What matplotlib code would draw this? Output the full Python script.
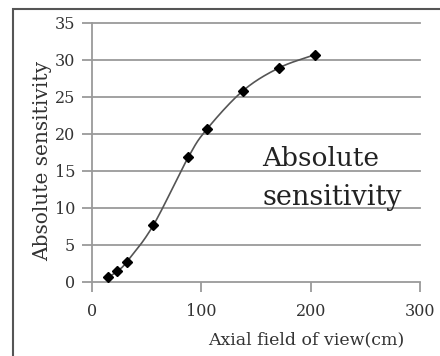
import numpy as np
import matplotlib
matplotlib.use("Agg")
import matplotlib.pyplot as plt
from matplotlib.patches import Rectangle

axial_fov_cm = [15, 23, 32, 56, 88, 105, 138, 171, 204]
abs_sensitivity = [0.6, 1.4, 2.7, 7.6, 16.8, 20.6, 25.8, 28.9, 30.7]
x_ticks = [0, 100, 200, 300]
y_ticks = [0, 5, 10, 15, 20, 25, 30, 35]

def smooth(xs, ys, n=30):
    # Catmull-Rom style smoothing between given points (like Excel smoothed line)
    xs = np.asarray(xs, float); ys = np.asarray(ys, float)
    P = np.column_stack([xs, ys])
    P = np.vstack([P[0] - (P[1] - P[0]), P, P[-1] + (P[-1] - P[-2])])
    out = []
    t = np.linspace(0, 1, n)[:, None]
    for i in range(1, len(P) - 2):
        p0, p1, p2, p3 = P[i-1], P[i], P[i+1], P[i+2]
        c1 = p1 + (p2 - p0) / 6
        c2 = p2 - (p3 - p1) / 6
        seg = ((1-t)**3)*p1 + 3*((1-t)**2)*t*c1 + 3*(1-t)*t**2*c2 + t**3*p2
        out.append(seg)
    S = np.vstack(out)
    return S[:, 0], S[:, 1]

plt.rcParams['font.family'] = ['DejaVu Serif']

fig = plt.figure(figsize=(4.4, 3.56), dpi=100)
ax = fig.add_axes([0.209, 0.2087, 0.7455, 0.7273])

for yv in y_ticks[1:]:
    ax.axhline(yv, color='#9a9a9a', lw=1.3, zorder=1, xmin=0, xmax=1, clip_on=False)

sx, sy = smooth(axial_fov_cm, abs_sensitivity)
ax.plot(sx, sy, color='#555555', lw=1.2, zorder=2)
ax.plot(axial_fov_cm, abs_sensitivity, linestyle='none', marker='D', ms=5.5,
        color='black', zorder=3)

ax.set_xlim(0, 300)
ax.set_ylim(0, 35)
ax.set_xticks(x_ticks)
ax.set_yticks(y_ticks)
for s in ['top', 'right']:
    ax.spines[s].set_visible(False)
for s in ['left', 'bottom']:
    ax.spines[s].set_color('#9a9a9a')
    ax.spines[s].set_linewidth(1.3)
ax.tick_params(axis='both', color='#9a9a9a', width=1.3, length=7, labelsize=11.5,
               labelcolor='#333333')
ax.tick_params(axis='y', pad=5)
ax.tick_params(axis='x', pad=8)

ax.set_ylabel('Absolute sensitivity', fontsize=14.5, color='#333333')
ax.yaxis.set_label_coords(-0.122, 0.466)
ax.set_xlabel('Axial field of view(cm)', fontsize=12.5, color='#333333')
ax.xaxis.set_label_coords(0.652, -0.19)

ax.text(0.52, 0.447, 'Absolute', transform=ax.transAxes, fontsize=19,
        color='#222222', ha='left', va='baseline')
ax.text(0.52, 0.296, 'sensitivity', transform=ax.transAxes, fontsize=19.5,
        color='#222222', ha='left', va='baseline')

fig.patches.append(Rectangle((13/440, -0.1), 2, (356-9)/356 + 0.1, transform=fig.transFigure,
                             fill=False, edgecolor='#555555', lw=1.5))

fig.savefig('out.png', dpi=100)
